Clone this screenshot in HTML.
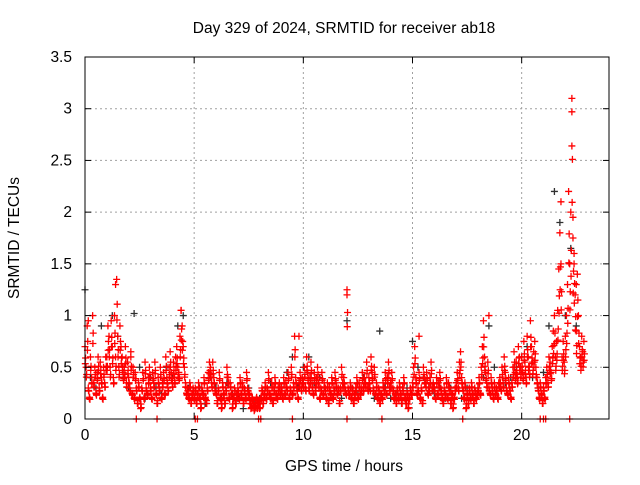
<!DOCTYPE html>
<html><head><meta charset="utf-8"><style>
body{margin:0;background:#fff;font-family:"Liberation Sans",sans-serif}
svg text{font-family:"Liberation Sans",sans-serif;font-size:15.5px;fill:#000}
</style></head><body>
<svg id="c" width="640" height="480">
<text x="344" y="33" text-anchor="middle">Day 329 of 2024, SRMTID for receiver ab18</text>
<text x="344" y="471" text-anchor="middle">GPS time / hours</text>
<text transform="translate(19,238) rotate(-90)" text-anchor="middle">SRMTID / TECUs</text>
<g id="grid"></g><g id="blk"></g><g id="red"></g><g id="axes"></g>
</svg>
<script>
const xTicks=[0,5,10,15,20];
const yTicks=[0,0.5,1,1.5,2,2.5,3,3.5];
const yTickLabels=["0","0.5","1","1.5","2","2.5","3","3.5"];
const redStep=0.05;
const redVals=[0.7,0.5,0.9,0.3,0.2,0.6,0.4,1.0,0.35,0.5,0.25,0.45,0.6,0.3,0.55,0.4,0.2,0.5,0.35,0.6,
0.6,0.9,0.8,0.5,0.95,0.7,0.4,1.0,0.6,1.35,0.8,0.5,0.9,0.7,0.6,0.45,0.5,0.7,0.35,0.55,
0.4,0.3,0.6,0.25,0.5,0.2,0.45,0.3,0.15,0.35,0.2,0.1,0.3,0.45,0.2,0.55,0.3,0.25,0.4,0.5,
0.3,0.2,0.45,0.35,0.55,0.25,0.15,0.4,0.3,0.5,0.2,0.35,0.45,0.25,0.6,0.4,0.3,0.5,0.65,0.45,
0.35,0.55,0.4,0.6,0.7,0.5,0.45,0.8,1.05,0.9,0.7,0.5,0.35,0.25,0.3,0.2,0.35,0.15,0.25,0.3,
0.2,0.3,0.15,0.25,0.35,0.2,0.1,0.3,0.25,0.4,0.2,0.15,0.3,0.45,0.55,0.5,0.35,0.55,0.4,0.3,
0.25,0.15,0.3,0.45,0.2,0.1,0.35,0.25,0.15,0.3,0.5,0.4,0.2,0.35,0.25,0.1,0.2,0.3,0.15,0.25,
0.3,0.2,0.4,0.25,0.35,0.15,0.3,0.2,0.45,0.3,0.25,0.15,0.1,0.2,0.15,0.08,0.12,0.2,0.1,0.15,
0.1,0.2,0.3,0.15,0.25,0.35,0.2,0.3,0.45,0.25,0.2,0.35,0.15,0.3,0.4,0.25,0.2,0.3,0.35,0.25,
0.3,0.2,0.4,0.25,0.35,0.3,0.45,0.2,0.3,0.5,0.25,0.35,0.8,0.4,0.3,0.2,0.35,0.45,0.3,0.4,
0.35,0.5,0.3,0.6,0.45,0.3,0.4,0.55,0.35,0.25,0.45,0.3,0.4,0.5,0.35,0.2,0.3,0.45,0.25,0.35,
0.3,0.2,0.35,0.15,0.3,0.25,0.4,0.2,0.3,0.45,0.35,0.25,0.3,0.15,0.3,0.5,0.35,0.4,0.3,0.25,
1.25,0.3,0.25,0.35,0.2,0.3,0.15,0.25,0.3,0.4,0.2,0.35,0.25,0.3,0.45,0.3,0.4,0.35,0.55,0.3,
0.4,0.3,0.6,0.45,0.3,0.5,0.25,0.35,0.2,0.3,0.15,0.25,0.2,0.35,0.3,0.45,0.25,0.4,0.55,0.3,
0.35,0.45,0.3,0.2,0.25,0.15,0.3,0.2,0.35,0.25,0.15,0.3,0.4,0.2,0.15,0.25,0.1,0.2,0.3,0.25,
0.35,0.5,0.7,0.4,0.25,0.3,0.45,0.2,0.3,0.15,0.5,0.4,0.35,0.45,0.25,0.3,0.4,0.55,0.3,0.35,
0.3,0.2,0.4,0.25,0.35,0.45,0.3,0.2,0.15,0.3,0.25,0.4,0.2,0.35,0.3,0.15,0.25,0.1,0.2,0.3,
0.35,0.45,0.3,0.55,0.65,0.4,0.3,0.2,0.35,0.1,0.25,0.15,0.3,0.2,0.35,0.25,0.15,0.3,0.2,0.25,
0.3,0.4,0.25,0.5,0.7,0.95,0.6,0.45,0.35,0.55,0.3,0.25,0.4,0.3,0.2,0.35,0.25,0.3,0.2,0.35,
0.4,0.3,0.5,0.35,0.6,0.45,0.3,0.25,0.4,0.3,0.2,0.35,0.5,0.65,0.45,0.55,0.4,0.7,0.6,0.5,
0.6,0.45,0.75,0.55,0.4,0.8,0.6,0.5,0.95,0.7,0.55,0.65,0.75,0.5,0.4,0.3,0.2,0.35,0.25,0.15,
0.3,0.2,0.4,0.5,0.35,0.6,0.55,0.45,0.7,0.85,1.0,0.6,0.75,1.05,1.45,1.8,1.5,0.6,0.75,0.55,
0.8,1.0,1.3,2.2,1.5,2.0,3.1,1.75,1.6,1.2,0.85,1.4,1.0,0.7,0.6,0.8,0.65,0.75];
const extraX=[0.15,1.4,2.1,4.4,9.8,12.0,15.3,18.5,21.8,22.3,22.3,22.35,22.4,22.5];
const extraY=[0.95,1.3,0.65,1.05,0.8,1.2,0.8,1.0,2.1,2.97,2.64,1.95,1.5,1.3];
const zeroX=[2.35,3.3,5.05,5.15,7.95,8.05,9.5,12.0,13.6,17.3,20.85,21.0,21.1,22.2];
const blkStep=0.25;
const blkVals=[1.25,0.4,0.3,0.9,0.5,1.0,0.8,0.4,0.3,1.02,0.5,0.2,0.4,0.3,0.25,0.5,0.4,0.9,1.0,0.3,
0.2,0.3,0.15,0.4,0.3,0.2,0.35,0.25,0.2,0.1,0.3,0.15,0.2,0.3,0.35,0.25,0.3,0.45,0.6,0.3,
0.5,0.6,0.35,0.4,0.3,0.25,0.3,0.2,0.95,0.3,0.25,0.4,0.3,0.2,0.85,0.3,0.2,0.25,0.15,0.3,
0.75,0.5,0.4,0.3,0.25,0.3,0.2,0.3,0.35,0.2,0.3,0.25,0.3,0.4,0.9,0.5,0.3,0.35,0.4,0.5,
0.6,0.7,0.4,0.3,0.45,0.9,2.2,1.9,1.0,1.65,0.9];
const X0=85,X1=609,Y0=419,Y1=57,XMAX=24,YMAX=3.5;
const sx=v=>X0+v*(X1-X0)/XMAX, sy=v=>Y0-v*(Y0-Y1)/YMAX;
const NS="http://www.w3.org/2000/svg";
function mk(t,a,p){const e=document.createElementNS(NS,t);for(const k in a)e.setAttribute(k,a[k]);p.appendChild(e);return e;}
const grid=document.getElementById('grid'),axes=document.getElementById('axes');
xTicks.forEach((t,i)=>{
 const x=sx(t);
 if(t>0){const g=mk('line',{x1:x,x2:x,y1:Y1,y2:Y0,stroke:'#a0a0a0','stroke-dasharray':'2,3'},grid);
 
 }
 mk('line',{x1:x,x2:x,y1:Y0,y2:Y0-6,stroke:'#000'},axes);
 mk('line',{x1:x,x2:x,y1:Y1,y2:Y1+6,stroke:'#000'},axes);
 const l=mk('text',{x:x,y:Y0+21,'text-anchor':'middle'},axes);l.textContent=String(t);
 
 
});
yTicks.forEach((t,i)=>{
 const y=sy(t);
 if(t>0&&t<YMAX){const g=mk('line',{x1:X0,x2:X1,y1:y,y2:y,stroke:'#a0a0a0','stroke-dasharray':'2,3'},grid);
 
 }
 mk('line',{x1:X0,x2:X0+6,y1:y,y2:y,stroke:'#000'},axes);
 mk('line',{x1:X1,x2:X1-6,y1:y,y2:y,stroke:'#000'},axes);
 const l=mk('text',{x:X0-13,y:y+5,'text-anchor':'end'},axes);l.textContent=yTickLabels[i];
 
 
});
const fr=mk('rect',{x:X0,y:Y1,width:X1-X0,height:Y0-Y1,fill:'none',stroke:'#000'},axes);


function plus(g,x,y,c,name){
 const p=mk('path',{d:`M${x-3.5},${y}h7M${x},${y-3.5}v7`,stroke:c,'stroke-width':1.3,fill:'none'},g);
 
 
}
const blk=document.getElementById('blk'),red=document.getElementById('red');
blkVals.forEach((v,i)=>plus(blk,sx(i*blkStep),sy(v),'#303030','black-point'));
redVals.forEach((v,i)=>{
 plus(red,sx(i*redStep),sy(v),'#ff0000','red-point');
 plus(red,sx(i*redStep+0.025),sy(v*0.8+0.03),'#ff0000','red-point');
 plus(red,sx(i*redStep+0.012),sy(v*0.65+0.08),'#ff0000','red-point');
});
extraX.forEach((x,i)=>plus(red,sx(x),sy(extraY[i]),'#ff0000','red-point'));
zeroX.forEach(x=>plus(red,sx(x),sy(0),'#ff0000','red-point-zero'));
</script>
</body></html>
